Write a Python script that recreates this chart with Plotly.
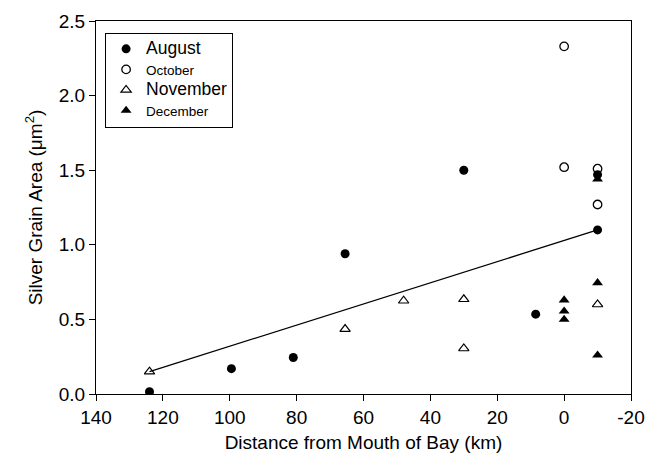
import plotly.graph_objects as go

# Data
aug_x = [124, 99.5, 81, 65.5, 30, 8.5, -10, -10]
aug_y = [0.015, 0.17, 0.245, 0.94, 1.50, 0.535, 1.47, 1.10]

oct_x = [0, 0, -10, -10]
oct_y = [2.33, 1.52, 1.51, 1.27]

nov_x = [124, 65.5, 48, 30, 30, -10]
nov_y = [0.15, 0.435, 0.625, 0.635, 0.305, 0.60]

dec_x = [0, 0, 0, -10, -10, -10]
dec_y = [0.63, 0.555, 0.50, 1.44, 0.745, 0.26]

trend_x = [124, -10]
trend_y = [0.15, 1.10]

x_ticks = [140, 120, 100, 80, 60, 40, 20, 0, -20]
y_ticks = [0.0, 0.5, 1.0, 1.5, 2.0, 2.5]

FONT = "Arial, Liberation Sans, sans-serif"

fig = go.Figure()

fig.add_trace(go.Scatter(x=trend_x, y=trend_y, mode="lines",
                         line=dict(color="black", width=1.3),
                         showlegend=False, hoverinfo="skip"))

fig.add_trace(go.Scatter(x=aug_x, y=aug_y, mode="markers",
                         name='<span style="font-size:17.5px">August</span>',
                         marker=dict(symbol="circle", size=9, color="black")))
fig.add_trace(go.Scatter(x=oct_x, y=oct_y, mode="markers", name="October",
                         marker=dict(symbol="circle-open", size=8.5, color="black",
                                     line=dict(width=1.3, color="black"))))
fig.add_trace(go.Scatter(x=nov_x, y=nov_y, mode="markers",
                         name='<span style="font-size:17.5px">November</span>',
                         marker=dict(symbol="triangle-up-open", size=9, color="black",
                                     line=dict(width=1.2, color="black"))))
fig.add_trace(go.Scatter(x=dec_x, y=dec_y, mode="markers", name="December",
                         marker=dict(symbol="triangle-up", size=9.5, color="black")))

axis_common = dict(
    showline=True, linecolor="black", linewidth=1.3, mirror=True,
    ticks="outside", ticklen=6, tickwidth=1.3, tickcolor="black",
    showgrid=False, zeroline=False,
    tickfont=dict(family=FONT, size=19, color="black"),
)

fig.update_xaxes(range=[140, -20], tickvals=x_ticks,
                 ticktext=[str(v) for v in x_ticks],
                 title=dict(text="Distance from Mouth of Bay (km)",
                            font=dict(family=FONT, size=19, color="black"),
                            standoff=8),
                 **axis_common)
fig.update_yaxes(range=[0, 2.5], tickvals=y_ticks,
                 ticktext=[f"{v:.1f}" for v in y_ticks],
                 title=dict(text="Silver Grain Area (\u03bcm<sup>2</sup>)",
                            font=dict(family=FONT, size=19, color="black"),
                            standoff=10),
                 **axis_common)

fig.update_layout(
    width=656, height=463,
    margin=dict(l=96, r=25, t=21, b=69),
    paper_bgcolor="white", plot_bgcolor="white",
    font=dict(family=FONT, color="black"),
    legend=dict(x=0.017, y=0.969, xanchor="left", yanchor="top",
                bordercolor="black", borderwidth=1, bgcolor="white",
                font=dict(family=FONT, size=13.5, color="black"),
                tracegroupgap=0, itemwidth=30),
)

# Remove the default page margin so the figure fills the window exactly.
fig.write_html("out.html",
               config={"displayModeBar": False},
               post_script="document.body.style.margin='0';document.body.style.padding='0';")
